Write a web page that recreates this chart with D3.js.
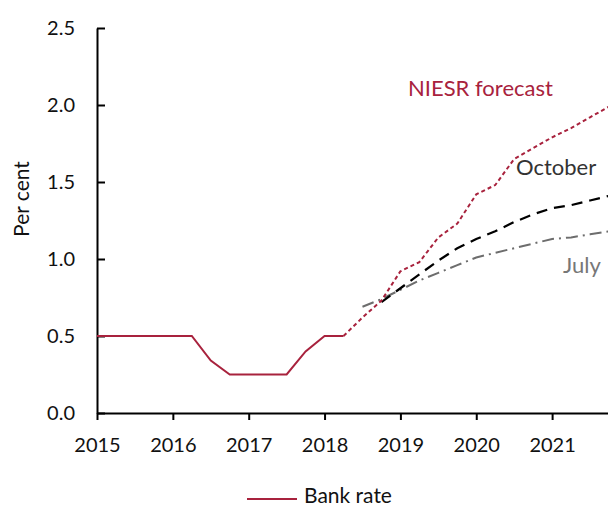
<!DOCTYPE html>
<html>
<head>
<meta charset="utf-8">
<script src="https://cdn.jsdelivr.net/npm/d3@7"></script>
<style>
  body { margin: 0; background: #fff; }
  text { font-family: "Lato", "Open Sans", sans-serif; }
</style>
</head>
<body>
<script>
// Quarterly data, decimal years
var bankQuarters = [2015, 2015.25, 2015.5, 2015.75, 2016, 2016.25, 2016.5, 2016.75,
                    2017, 2017.25, 2017.5, 2017.75, 2018, 2018.25];
var bankRate = [0.5, 0.5, 0.5, 0.5, 0.5, 0.5, 0.34, 0.25, 0.25, 0.25, 0.25, 0.40, 0.5, 0.5];

var niesrQuarters = [2018.25, 2018.5, 2018.75, 2019, 2019.25, 2019.5, 2019.75, 2020,
                     2020.25, 2020.5, 2020.75, 2021, 2021.25, 2021.5, 2021.75];
var niesrForecast = [0.5, 0.62, 0.73, 0.92, 0.98, 1.14, 1.23, 1.42, 1.48, 1.65, 1.72, 1.79, 1.85, 1.92, 1.99];

var octoberQuarters = [2018.75, 2019, 2019.25, 2019.5, 2019.75, 2020, 2020.25, 2020.5,
                       2020.75, 2021, 2021.25, 2021.5, 2021.75];
var octoberCurve = [0.72, 0.81, 0.90, 0.99, 1.07, 1.13, 1.18, 1.24, 1.29, 1.33, 1.35, 1.38, 1.41];

var julyQuarters = [2018.5, 2018.75, 2019, 2019.25, 2019.5, 2019.75, 2020, 2020.25,
                    2020.5, 2020.75, 2021, 2021.25, 2021.5, 2021.75];
var julyCurve = [0.69, 0.74, 0.80, 0.86, 0.91, 0.96, 1.01, 1.04, 1.07, 1.10, 1.13, 1.14, 1.16, 1.18];

var yearTicks = [2015, 2016, 2017, 2018, 2019, 2020, 2021];
var yTicks = [0, 0.5, 1.0, 1.5, 2.0, 2.5];

var crimson = "#a8223d";

// Set up the svg
var width = 608, height = 508;
var svg = d3.select("body").append("svg")
    .attr("width", width)
    .attr("height", height);

var x = d3.scaleLinear().domain([2015, 2021.75]).range([97, 609]);
var y = d3.scaleLinear().domain([0, 2.5]).range([413, 28]);

// Axes
var xAxis = svg.append("g")
    .attr("transform", "translate(0," + y(0) + ")")
    .call(d3.axisBottom(x).tickValues(yearTicks).tickFormat(d3.format("d"))
        .tickSize(7).tickSizeOuter(0).tickPadding(18));

var yAxis = svg.append("g")
    .attr("transform", "translate(" + x(2015) + ",0)")
    .call(d3.axisLeft(y).tickValues(yTicks).tickFormat(d3.format(".1f"))
        .tickSize(-8).tickSizeOuter(0).tickPadding(22));

[xAxis, yAxis].forEach(function (g) {
  g.select(".domain").attr("stroke", "#000").attr("stroke-width", 2);
  g.selectAll(".tick line").attr("stroke", "#000").attr("stroke-width", 2);
  g.selectAll(".tick text")
      .attr("fill", "#111")
      .style("font-size", "20px")
      .style("font-family", "Lato, sans-serif");
});

// Y label
svg.append("text")
    .attr("transform", "translate(29,199) rotate(-90)")
    .attr("text-anchor", "middle")
    .attr("fill", "#111")
    .style("font-size", "21px")
    .text("Per cent");

// Lines
function lineFor(dates) {
  return d3.line()
      .x(function (d, i) { return x(dates[i]); })
      .y(function (d) { return y(d); });
}

svg.append("path")
    .datum(julyCurve)
    .attr("fill", "none")
    .attr("stroke", "#6d6d6d")
    .attr("stroke-width", 2)
    .attr("stroke-dasharray", "12,5,2,5")
    .attr("d", lineFor(julyQuarters));

svg.append("path")
    .datum(octoberCurve)
    .attr("fill", "none")
    .attr("stroke", "#000")
    .attr("stroke-width", 2.2)
    .attr("stroke-dasharray", "11,7")
    .attr("d", lineFor(octoberQuarters));

svg.append("path")
    .datum(niesrForecast)
    .attr("fill", "none")
    .attr("stroke", crimson)
    .attr("stroke-width", 2)
    .attr("stroke-dasharray", "4,3")
    .attr("d", lineFor(niesrQuarters));

svg.append("path")
    .datum(bankRate)
    .attr("fill", "none")
    .attr("stroke", crimson)
    .attr("stroke-width", 2)
    .attr("d", lineFor(bankQuarters));

// Line labels
svg.append("text")
    .attr("x", 408).attr("y", 96)
    .attr("fill", crimson)
    .style("font-size", "22px")
    .text("NIESR forecast");

svg.append("text")
    .attr("x", 516).attr("y", 175)
    .attr("fill", "#333")
    .style("font-size", "22px")
    .text("October");

svg.append("text")
    .attr("x", 563).attr("y", 273)
    .attr("fill", "#777")
    .style("font-size", "22px")
    .text("July");

// Legend
svg.append("line")
    .attr("x1", 247).attr("x2", 297)
    .attr("y1", 499).attr("y2", 499)
    .attr("stroke", crimson)
    .attr("stroke-width", 2);

svg.append("text")
    .attr("x", 304).attr("y", 503)
    .attr("fill", "#111")
    .style("font-size", "21px")
    .text("Bank rate");
</script>
</body>
</html>
